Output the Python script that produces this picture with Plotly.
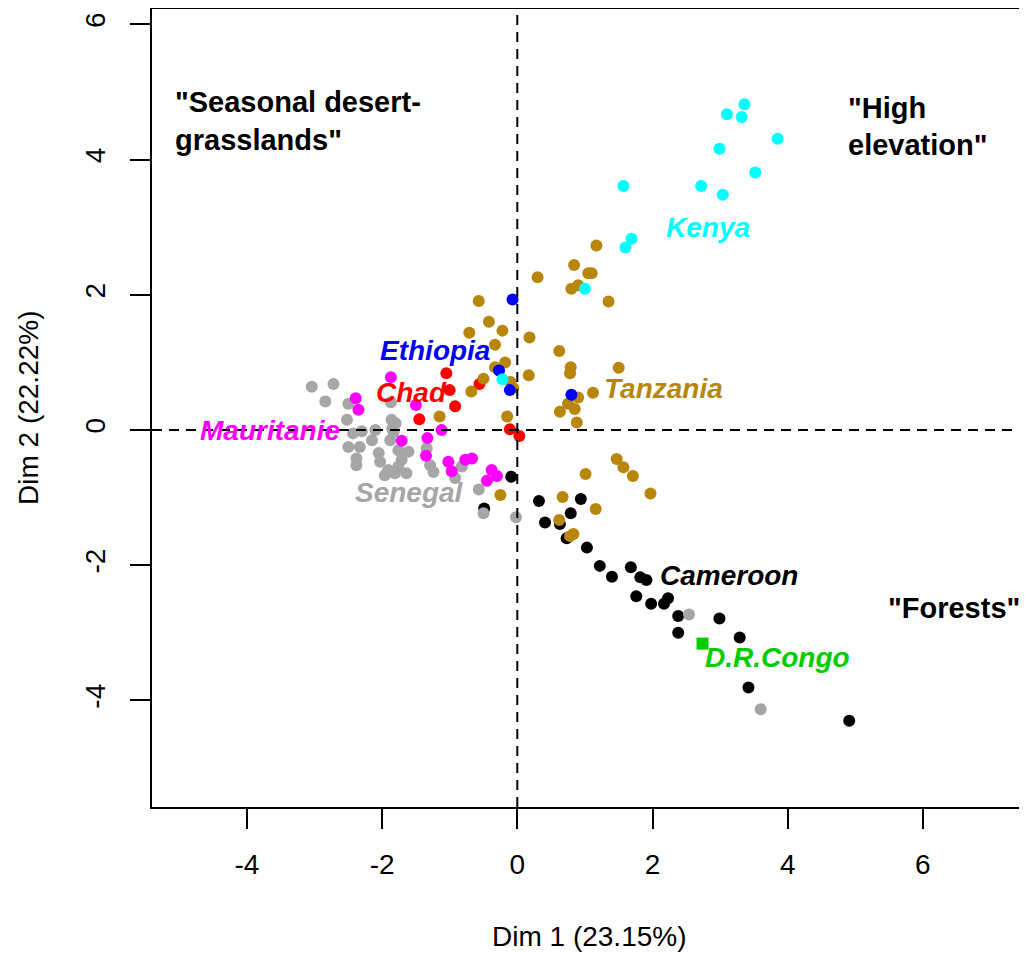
import plotly.graph_objects as go

# ---------------- data ----------------
kenya_x = [3.36, 3.10, 3.32, 3.85, 2.99, 3.52, 1.57, 2.72, 3.04, 1.69, 1.60, 1.00, -0.22]
kenya_y = [4.82, 4.67, 4.63, 4.31, 4.16, 3.81, 3.61, 3.61, 3.48, 2.83, 2.70, 2.09, 0.75]

ethiopia_x = [-0.07, -0.27, -0.11, 0.80]
ethiopia_y = [1.93, 0.88, 0.59, 0.52]

chad_x = [-1.05, -1.00, -0.92, -1.45, -0.56, -0.11, 0.03]
chad_y = [0.84, 0.59, 0.35, 0.16, 0.68, 0.01, -0.09]

mauritanie_x = [-1.87, -2.39, -2.35, -1.50, -1.12, -1.33, -1.71, -1.35, -1.02, -0.97,
                -0.77, -0.67, -0.38, -0.30, -0.45]
mauritanie_y = [0.78, 0.47, 0.30, 0.37, 0.00, -0.12, -0.16, -0.38, -0.47, -0.61,
                -0.44, -0.42, -0.59, -0.68, -0.75]

tanzania_x = [-0.57, -0.42, -0.71, -0.22, 0.18, -0.33, -0.18, -0.33, -0.50, -0.68,
              -0.10, -0.06, 0.17, -1.15, -0.15, -0.25,
              1.17, 0.30, 0.84, 1.05, 1.10, 0.80, 0.90, 1.35, 0.62, 0.79, 0.78,
              1.50, 1.12, 0.90, 0.75, 0.63, 0.85, 0.88,
              1.47, 1.57, 1.71, 1.97, 1.01, 0.67, 1.16, 0.62, 0.83, 0.78]
tanzania_y = [1.91, 1.60, 1.44, 1.47, 1.37, 1.26, 1.00, 0.93, 0.76, 0.57,
              0.71, 0.62, 0.81, 0.20, 0.20, -0.96,
              2.73, 2.26, 2.44, 2.32, 2.32, 2.09, 2.14, 1.90, 1.17, 0.93, 0.84,
              0.92, 0.55, 0.48, 0.39, 0.27, 0.31, 0.11,
              -0.43, -0.55, -0.68, -0.94, -0.65, -0.99, -1.17, -1.33, -1.54, -1.57]

cameroon_x = [-0.09, -0.49, 0.32, 0.41, 0.94, 0.79, 0.63, 0.73, 1.03, 1.22, 1.40, 1.68,
              1.82, 1.91, 1.76, 1.98, 2.17, 2.23, 2.38, 2.38, 2.99, 3.29, 3.42, 4.91]
cameroon_y = [-0.69, -1.16, -1.05, -1.37, -1.02, -1.23, -1.39, -1.60, -1.74, -2.01, -2.17, -2.03,
              -2.18, -2.22, -2.46, -2.57, -2.57, -2.49, -2.75, -3.00, -2.79, -3.07, -3.81, -4.30]

senegal_x = [-3.04, -2.72, -2.84, -2.50, -2.52, -1.87, -1.86, -1.85, -1.82, -2.10,
             -2.30, -2.43, -2.15, -2.33, -2.50, -2.38, -2.38, -2.05, -2.03, -1.91,
             -1.96, -1.76, -1.71, -1.76, -1.61, -1.64, -1.81, -1.88, -1.34, -1.29,
             -1.24, -0.92, -0.82, -0.57, -0.50, -0.02, 2.54, 3.60, -1.80, -1.83]
senegal_y = [0.64, 0.68, 0.42, 0.39, 0.15, 0.41, 0.15, 0.02, 0.08, 0.00,
             -0.02, -0.05, -0.15, -0.25, -0.25, -0.42, -0.52, -0.34, -0.47, -0.59,
             -0.67, -0.54, -0.44, -0.30, -0.32, -0.64, -0.64, -0.15, -0.27, -0.52,
             -0.62, -0.71, -0.54, -0.88, -1.23, -1.29, -2.73, -4.13, 0.10, -0.03]

congo_x = [2.74]
congo_y = [-3.16]

x_ticks = [-4, -2, 0, 2, 4, 6]
x_ticklabels = ["-4", "-2", "0", "2", "4", "6"]
y_ticks = [-4, -2, 0, 2, 4, 6]
y_ticklabels = ["-4", "-2", "0", "2", "4", "6"]

x_title = "Dim 1 (23.15%)"
y_title = "Dim 2 (22.22%)"

groups = [
    ("Cameroon", cameroon_x, cameroon_y, "#000000", "circle", 12),
    ("Senegal", senegal_x, senegal_y, "#A6A6A6", "circle", 12),
    ("Mauritanie", mauritanie_x, mauritanie_y, "#FF00FF", "circle", 12),
    ("Chad", chad_x, chad_y, "#FF0000", "circle", 12),
    ("Tanzania", tanzania_x, tanzania_y, "#B8860B", "circle", 12),
    ("Ethiopia", ethiopia_x, ethiopia_y, "#0000FF", "circle", 12),
    ("Kenya", kenya_x, kenya_y, "#00FFFF", "circle", 12),
    ("D.R.Congo", congo_x, congo_y, "#00CD00", "square", 12),
]

# country label positions (data coords) and colors
country_labels = [
    ("Kenya", 2.82, 3.00, "#00FFFF"),
    ("Ethiopia", -1.22, 1.18, "#0000FF"),
    ("Chad", -1.56, 0.55, "#FF0000"),
    ("Mauritanie", -3.66, 0.0, "#FF00FF"),
    ("Senegal", -1.60, -0.92, "#A6A6A6"),
    ("Tanzania", 2.17, 0.62, "#B8860B"),
    ("Cameroon", 3.13, -2.15, "#000000"),
    ("D.R.Congo", 3.85, -3.36, "#00CD00"),
]

region_labels = [
    ('"Seasonal desert-', -5.093, 4.85),
    ('grasslands"', -5.093, 4.29),
    ('"High', 4.862, 4.76),
    ('elevation"', 4.862, 4.22),
    ('"Forests"', 5.45, -2.63),
]

FONT = "Liberation Sans, Arial, sans-serif"

fig = go.Figure()
for name, xs, ys, col, sym, sz in groups:
    fig.add_trace(go.Scatter(
        x=xs, y=ys, mode="markers", name=name,
        marker=dict(color=col, size=sz, symbol=sym, line=dict(width=0)),
        showlegend=False,
    ))

annotations = []
for txt, x, y, col in country_labels:
    annotations.append(dict(
        x=x, y=y, xref="x", yref="y", text="<b><i>%s</i></b>" % txt,
        showarrow=False, xanchor="center", yanchor="middle",
        font=dict(family=FONT, size=28, color=col),
    ))
for txt, x, y in region_labels:
    annotations.append(dict(
        x=x, y=y, xref="x", yref="y", text="<b>%s</b>" % txt,
        showarrow=False, xanchor="left", yanchor="middle",
        font=dict(family=FONT, size=29, color="#000000"),
    ))
# axis titles
annotations.append(dict(
    x=0.5, y=-0.1617, xref="paper", yref="paper", text=x_title,
    showarrow=False, xanchor="center", yanchor="middle", borderpad=0,
    font=dict(family=FONT, size=28, color="black"),
))
annotations.append(dict(
    x=-0.1417, y=0.5, xref="paper", yref="paper", text=y_title, textangle=-90,
    showarrow=False, xanchor="center", yanchor="middle", borderpad=0,
    font=dict(family=FONT, size=28, color="black"),
))

shapes = [
    dict(type="line", xref="x", yref="paper", x0=0, x1=0, y0=0, y1=1,
         line=dict(color="black", width=2, dash="10px,7px")),
    dict(type="line", xref="paper", yref="y", x0=0, x1=1, y0=0, y1=0,
         line=dict(color="black", width=2, dash="10px,7px")),
]

# the page body adds an 8px offset, so the figure is 8px smaller and margins shifted
fig.update_layout(
    width=1019, height=946,
    margin=dict(l=144, r=0, t=1, b=147, autoexpand=False),
    paper_bgcolor="white", plot_bgcolor="white",
    font=dict(family=FONT, size=28, color="black"),
    annotations=annotations,
    shapes=shapes,
    xaxis=dict(
        range=[-5.404, 7.54], showgrid=False, zeroline=False, automargin=False,
        tickmode="array", tickvals=x_ticks, ticktext=x_ticklabels,
        ticks="outside", ticklen=20, tickwidth=2, tickcolor="black",
        showline=True, linewidth=2, linecolor="black", mirror=True,
        ticklabelstandoff=11,
    ),
    yaxis=dict(
        range=[-5.577, 6.228], showgrid=False, zeroline=False, automargin=False,
        tickmode="array", tickvals=y_ticks, ticktext=y_ticklabels,
        ticks="outside", ticklen=20, tickwidth=2, tickcolor="black",
        showline=True, linewidth=2, linecolor="black", mirror=False,
        tickangle=-90, ticklabelstandoff=14,
    ),
)

fig.write_html("out.html")
